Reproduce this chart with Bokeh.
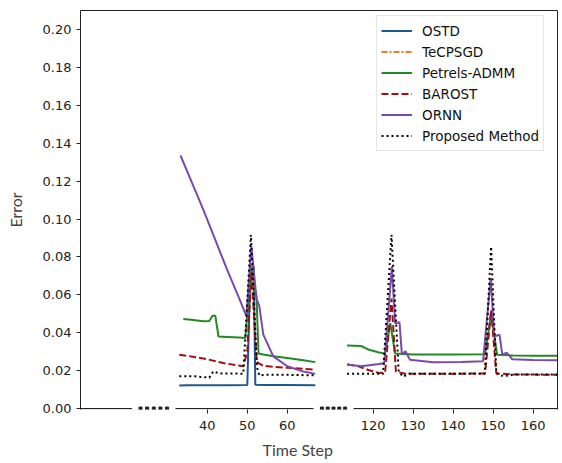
import numpy as np
from bokeh.plotting import figure
from bokeh.models import (Range1d, FixedTicker, LinearAxis, NumeralTickFormatter,
                          CustomJSTickFormatter, Legend, LegendItem, Title)
from bokeh.embed import file_html
from bokeh.resources import INLINE

# ---------------- data ----------------
x_ticks = [40, 50, 60, 120, 130, 140, 150, 160]
y_ticks = [0.0, 0.02, 0.04, 0.06, 0.08, 0.10, 0.12, 0.14, 0.16, 0.18, 0.20]

# first segment (t ~ 33..67)
ostd_t1 = [33, 35, 40, 45, 50, 50.8, 51.6, 52, 55, 60, 67]
ostd_v1 = [0.0122, 0.0123, 0.0123, 0.0123, 0.0124, 0.075, 0.075, 0.0125, 0.0124, 0.0124, 0.0123]

# TeCPSGD is not visible in the picture (only in the legend)
tecpsgd_t = [float("nan")]
tecpsgd_v = [float("nan")]

petrels_t1 = [34, 36, 39, 40.5, 41.3, 42, 42.8, 45, 48, 49.5, 51, 52.3, 52.8, 54, 57, 60, 64, 67]
petrels_v1 = [0.0473, 0.0468, 0.046, 0.0462, 0.049, 0.049, 0.038, 0.0378, 0.0375, 0.0372, 0.074, 0.059, 0.029, 0.0285, 0.0275, 0.0267, 0.0255, 0.0245]

barost_t1 = [33, 36, 40, 44, 49, 50, 51, 52.4, 54, 57, 60, 64, 67]
barost_v1 = [0.0284, 0.0275, 0.026, 0.024, 0.0223, 0.03, 0.072, 0.0245, 0.0225, 0.022, 0.0215, 0.021, 0.0205]

ornn_t1 = [33.3, 36, 39, 42, 45, 48, 49.8, 51, 52.3, 53, 54, 56.5, 60, 64, 67]
ornn_v1 = [0.1335, 0.12, 0.105, 0.089, 0.073, 0.058, 0.0486, 0.086, 0.058, 0.054, 0.039, 0.0275, 0.0223, 0.0195, 0.0183]

prop_t1 = [33, 37, 40.5, 41.5, 43, 46, 49, 50.9, 52.4, 53, 55, 60, 67]
prop_v1 = [0.017, 0.017, 0.0163, 0.0196, 0.0185, 0.0185, 0.0184, 0.0916, 0.022, 0.0175, 0.0178, 0.0178, 0.0175]

# second segment (t ~ 113..167)
petrels_t2 = [113.5, 117, 119, 121.5, 123, 124.3, 125.5, 130, 140, 148, 149.5, 151, 155, 160, 167]
petrels_v2 = [0.0332, 0.033, 0.031, 0.0296, 0.029, 0.045, 0.029, 0.0285, 0.0285, 0.0287, 0.05, 0.0284, 0.028, 0.0279, 0.0278]

barost_t2 = [113.5, 116, 119, 121.5, 123, 124.6, 125.7, 128, 140, 148, 149.5, 150.8, 155, 167]
barost_v2 = [0.0232, 0.0225, 0.0202, 0.0188, 0.019, 0.058, 0.0195, 0.0184, 0.0184, 0.0185, 0.052, 0.0185, 0.018, 0.0178]

ornn_t2 = [113.5, 117, 121.5, 122.8, 124.7, 125.5, 126.6, 127.2, 128.1, 129.2, 135, 142, 147.5, 149.4,
           150.3, 151.6, 152.3, 153.4, 154.8, 160, 167]
ornn_v2 = [0.0232, 0.0223, 0.0235, 0.024, 0.075, 0.045, 0.0455, 0.0285, 0.0302, 0.0258, 0.0244, 0.0245, 0.025, 0.0688,
           0.038, 0.039, 0.0284, 0.0295, 0.026, 0.0256, 0.0254]

prop_t2 = [113.5, 122.5, 124.6, 126.4, 127.5, 129, 140, 147.9, 149.5, 150.8, 152.5, 155, 167]
prop_v2 = [0.0183, 0.0183, 0.0916, 0.0195, 0.0168, 0.0184, 0.0184, 0.0184, 0.0854, 0.0188, 0.017, 0.0179, 0.0179]

# ---------------- broken axis mapping ----------------
OFF1 = 8.3
OFF2 = 46.85
SPLIT = 90            # time value separating the two shown segments
DISP_SPLIT = 63       # display value inside the second gap


def disp(ts):
    return [t - OFF1 if t < SPLIT else t - OFF2 for t in ts]


X_END = 119.25
segments = [(0, 12.9), (23.75, 58.25), (68.25, X_END)]

C_OSTD = "#1f5590"
C_TEC = "#e8802a"
C_PET = "#238a23"
C_BAR = "#a01010"
C_ORNN = "#7a4aaa"
C_PROP = "#000000"

p = figure(width=562, height=463, output_backend="svg", toolbar_location=None,
           x_range=Range1d(0, X_END), y_range=Range1d(-0.0005, 0.21),
           min_border_left=80, min_border_right=5, min_border_top=10, min_border_bottom=53)
p.outline_line_color = None
p.grid.visible = False

# axes
p.yaxis.ticker = FixedTicker(ticks=y_ticks)
p.yaxis.formatter = NumeralTickFormatter(format="0.00")
p.xaxis.ticker = FixedTicker(ticks=disp(x_ticks))
p.xaxis.formatter = CustomJSTickFormatter(
    args=dict(o1=OFF1, o2=OFF2, s=DISP_SPLIT),
    code="return (tick < s ? tick + o1 : tick + o2).toFixed(0);")
p.xaxis.axis_line_color = None
p.xaxis.major_label_standoff = 7
for ax in (p.xaxis[0], p.yaxis[0]):
    ax.major_tick_out = 4
    ax.major_tick_in = 0
    ax.minor_tick_out = 0
    ax.minor_tick_in = 0
    ax.major_label_text_font = "DejaVu Sans"
    ax.major_label_text_font_size = "13px"
    ax.major_label_text_color = "#222222"
    ax.major_tick_line_color = "#222222"
p.yaxis.axis_line_color = "#222222"
p.yaxis.axis_label = "Error"
p.yaxis.axis_label_text_font = "Lato"
p.yaxis.axis_label_text_font_size = "16px"
p.yaxis.axis_label_text_font_style = "normal"
p.yaxis.axis_label_standoff = 15

for side in ("above", "right"):
    ax = LinearAxis(ticker=FixedTicker(ticks=[]), major_label_text_font_size="0px",
                    major_tick_out=0, major_tick_in=0, minor_tick_out=0, minor_tick_in=0,
                    axis_line_color="#222222")
    p.add_layout(ax, side)

p.add_layout(Title(text="Time Step", align="left", offset=182, text_font="Lato",
                   text_font_size="16px", text_font_style="normal", standoff=10), "below")

# broken bottom spine
p.multi_line(xs=[[a, b] for a, b in segments], ys=[[0, 0]] * len(segments),
             line_color="#222222", line_width=1.2)
dots = []
for (a0, a1), (b0, b1) in zip(segments[:-1], segments[1:]):
    dots += list(np.linspace(a1 + 2.1, b0 - 2.1, 5))
p.scatter(x=dots, y=[0] * len(dots), marker="square", size=3, color="#222222")

# series
LW = 2
r_ostd = p.line(disp(ostd_t1), ostd_v1, line_color=C_OSTD, line_width=LW)
r_tec = p.line(disp(tecpsgd_t), tecpsgd_v, line_color=C_TEC, line_width=LW, line_dash="6 2 2 2")
r_pet = p.line(disp(petrels_t1), petrels_v1, line_color=C_PET, line_width=LW)
p.line(disp(petrels_t2), petrels_v2, line_color=C_PET, line_width=LW)
r_bar = p.line(disp(barost_t1), barost_v1, line_color=C_BAR, line_width=LW, line_dash="7 3")
p.line(disp(barost_t2), barost_v2, line_color=C_BAR, line_width=LW, line_dash="7 3")
r_ornn = p.line(disp(ornn_t1), ornn_v1, line_color=C_ORNN, line_width=LW)
p.line(disp(ornn_t2), ornn_v2, line_color=C_ORNN, line_width=LW)
r_prop = p.line(disp(prop_t1), prop_v1, line_color=C_PROP, line_width=LW, line_dash="2 3")
p.line(disp(prop_t2), prop_v2, line_color=C_PROP, line_width=LW, line_dash="2 3")

legend = Legend(items=[
    LegendItem(label="OSTD", renderers=[r_ostd]),
    LegendItem(label="TeCPSGD", renderers=[r_tec]),
    LegendItem(label="Petrels-ADMM", renderers=[r_pet]),
    LegendItem(label="BAROST", renderers=[r_bar]),
    LegendItem(label="ORNN", renderers=[r_ornn]),
    LegendItem(label="Proposed Method", renderers=[r_prop]),
], location=(296, 258))
legend.label_text_font = "DejaVu Sans"
legend.label_text_font_size = "13.5px"
legend.label_text_color = "#111111"
legend.glyph_width = 31
legend.glyph_height = 21
legend.label_height = 21
legend.label_standoff = 10
legend.spacing = 0
legend.padding = 4
legend.margin = 0
legend.border_line_color = "#cccccc"
legend.border_line_width = 1
legend.background_fill_alpha = 0.85
p.add_layout(legend)

open("out.html", "w").write(file_html(p, INLINE))
